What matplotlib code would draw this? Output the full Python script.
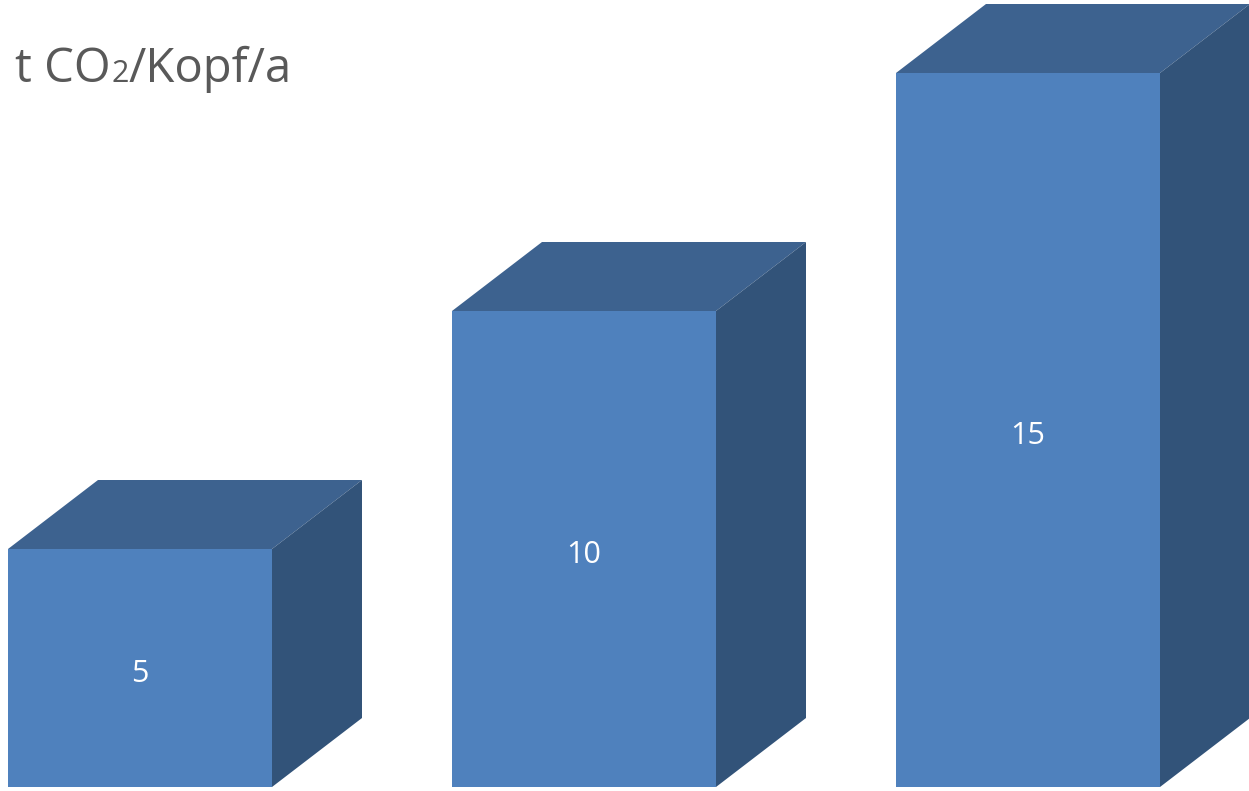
import numpy as np
import matplotlib
matplotlib.use('Agg')
import matplotlib.pyplot as plt
from matplotlib.transforms import IdentityTransform

categories = ['A', 'B', 'C']
values = [5, 10, 15]
labels = ['5', '10', '15']

front_col = '#4F81BD'
top_col = '#3D628F'
side_col = '#325379'

W, H = 1249, 791
fig = plt.figure(figsize=(W / 100, H / 100), dpi=100)
ax = fig.add_axes([0, 0, 1, 1])

# pixel scale: 444 px per category step, 47.6 px per unit value
px_x = 444.0
px_y = 47.6
x0 = 140.0    # centre of first front face in px
y0 = 787.0    # baseline (value 0) in px from top
ax.set_xlim(-x0 / px_x, (W - x0) / px_x)
ax.set_ylim(-(H - y0) / px_y, y0 / px_y)
ax.axis('off')

w = 264 / px_x
dx = 90 / px_x
dy = 69 / px_y

for i, v in enumerate(values):
    l = i - w / 2
    r = i + w / 2
    # front
    ax.fill([l, r, r, l], [0, 0, v, v], color=front_col, lw=0)
    # top
    ax.fill([l, r, r + dx, l + dx], [v, v, v + dy, v + dy], color=top_col, lw=0)
    # side
    ax.fill([r, r + dx, r + dx, r], [0, dy, v + dy, v], color=side_col, lw=0)
    ax.annotate(labels[i], (i, v / 2), xytext=(0, -4), textcoords='offset points',
                color='white', fontsize=22, family='Open Sans',
                ha='center', va='center')

# title with small "2" on the baseline
fig.canvas.draw()
r = fig.canvas.get_renderer()
tc = '#595959'
base = H - 82
t1 = fig.text(15, base, 't CO', transform=IdentityTransform(), fontsize=34,
              family='Open Sans', color=tc, va='baseline')
x = t1.get_window_extent(r).x1
t2 = fig.text(x + 1, base, '2', transform=IdentityTransform(), fontsize=22,
              family='Open Sans', color=tc, va='baseline')
x = t2.get_window_extent(r).x1
fig.text(x, base, '/Kopf/a', transform=IdentityTransform(), fontsize=34,
         family='Open Sans', color=tc, va='baseline')

fig.savefig('out.png', dpi=100)
